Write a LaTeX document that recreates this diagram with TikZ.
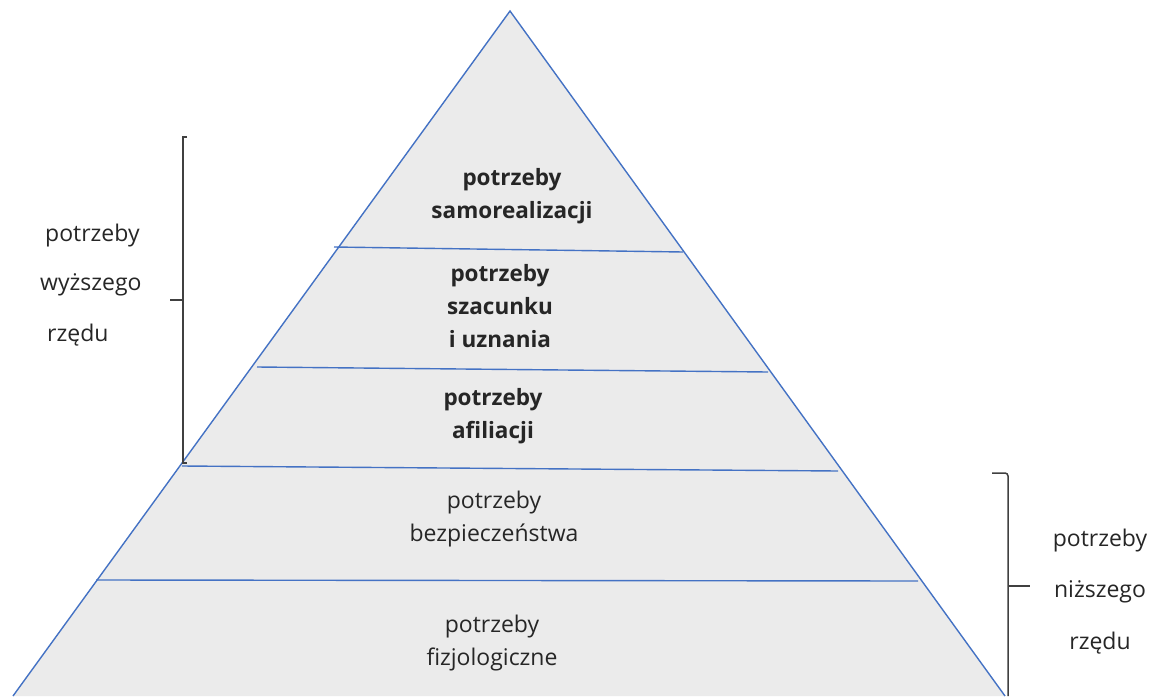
\documentclass[tikz,border=0pt]{standalone}
\usepackage{fontspec}
\setmainfont{Open Sans}
\definecolor{edge}{HTML}{4472C4}
\definecolor{fillg}{HTML}{EBEBEB}
\definecolor{brk}{HTML}{404040}
\begin{document}
\begin{tikzpicture}[x=1pt,y=-1pt,
  lbl/.style={font=\fontsize{23}{33}\selectfont, align=center, text=black!85, inner sep=0pt},
  blbl/.style={lbl, font=\fontsize{22.5}{33}\selectfont\bfseries},
  side/.style={font=\fontsize{23}{24}\selectfont, text=black!85, inner sep=0pt},
  tier/.style={edge, line width=1.4pt},
  bracket/.style={brk, line width=1.5pt}]
\path[use as bounding box] (0,0) rectangle (1164,696);
\coordinate (apex) at (510,11);
\coordinate (bl) at (13,696);
\coordinate (br) at (1005,696);
\fill[fillg] (apex) -- (br) -- (bl) -- cycle;
\draw[tier] (bl) -- (apex) -- (br);
\coordinate (l1a) at (334,247); \coordinate (l1b) at (683,252);
\coordinate (l2a) at (257,367); \coordinate (l2b) at (768,372);
\coordinate (l3a) at (182,466); \coordinate (l3b) at (838,471);
\coordinate (l4a) at (96,580);  \coordinate (l4b) at (918,581);
\draw[tier] (l1a) -- (l1b);
\draw[tier] (l2a) -- (l2b);
\draw[tier] (l3a) -- (l3b);
\draw[tier] (l4a) -- (l4b);
\node[blbl] (t1) at (512,196) {potrzeby\\samorealizacji};
\node[blbl] (t2) at (500,306) {potrzeby\\szacunku\\i uznania};
\node[blbl] (t3) at (493,416) {potrzeby\\afiliacji};
\node[lbl] (t4) at (494,519) {potrzeby\\bezpieczeństwa};
\node[lbl] (t5) at (492,643) {potrzeby\\fizjologiczne};
% left bracket
\coordinate (lbt) at (183,137); \coordinate (lbb) at (183,463);
\draw[bracket] (187,137) -- (lbt) -- (lbb) -- (187,463);
\draw[bracket] (170,300) -- (183,300);
\node[side, anchor=west] (w1) at (45,236) {potrzeby};
\node[side, anchor=west] (w2) at (40,285) {wyższego};
\node[side, anchor=west] (w3) at (47,335) {rzędu};
% right bracket
\draw[bracket, rounded corners=3pt] (992,473) -- (1008,473) -- (1008,696);
\draw[bracket] (1008,586) -- (1030,586);
\node[side] (n1) at (1100,541) {potrzeby};
\node[side] (n2) at (1100,592) {niższego};
\node[side] (n3) at (1100,643) {rzędu};
\end{tikzpicture}
\end{document}
